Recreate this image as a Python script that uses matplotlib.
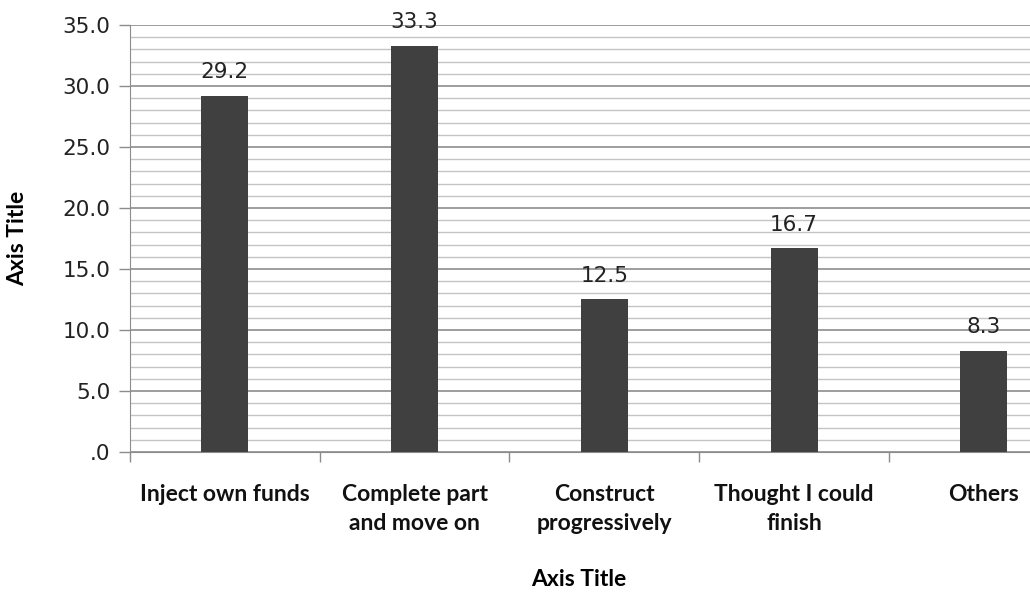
import matplotlib.pyplot as plt
from matplotlib.ticker import MultipleLocator, FuncFormatter

# Survey answers and percentage of respondents
categories = ["Inject own funds", "Complete part\nand move on", "Construct\nprogressively",
              "Thought I could\nfinish", "Others"]
values = [29.2, 33.3, 12.5, 16.7, 8.3]

fig = plt.figure(figsize=(10.3, 5.92), dpi=100)
# plot area runs past the right edge of the figure
ax = fig.add_axes([0.1262, 0.2365, 0.9211, 0.7213])

x = range(len(categories))
bars = ax.bar(x, values, width=0.248, color="#404040", zorder=3)

# Value labels above each bar
for xi, v in zip(x, values):
    ax.text(xi, v + 1.1, f"{v:.1f}", ha="center", va="bottom",
            fontsize=15.5, family="DejaVu Sans", color="#222222")

ax.set_xlim(-0.5, len(categories) - 0.5)
ax.set_ylim(0, 35)

# Major and minor horizontal gridlines
ax.yaxis.set_major_locator(MultipleLocator(5))
ax.yaxis.set_minor_locator(MultipleLocator(1))
ax.yaxis.set_major_formatter(FuncFormatter(lambda v, p: ".0" if v == 0 else f"{v:.1f}"))
ax.grid(axis="y", which="major", color="#8c8c8c", linewidth=1.2, zorder=0)
ax.grid(axis="y", which="minor", color="#c4c4c4", linewidth=1.0, zorder=0)

ax.tick_params(axis="y", which="major", length=8, width=1, color="#8c8c8c",
               labelsize=15.5, labelcolor="#222222", pad=6)
ax.tick_params(axis="y", which="minor", length=0)

# Category ticks sit on the boundaries between groups
ax.set_xticks([i - 0.5 for i in range(len(categories) + 1)], minor=False)
ax.set_xticklabels([])
ax.set_xticks(list(x), minor=True)
ax.set_xticklabels(categories, minor=True, fontsize=16.5, family="Lato",
                   fontweight="bold", color="#111111", linespacing=1.45)
ax.tick_params(axis="x", which="major", length=7, width=1, color="#8c8c8c")
ax.tick_params(axis="x", which="minor", length=0, pad=23)

for side in ["top", "right"]:
    ax.spines[side].set_visible(False)
ax.spines["left"].set_color("#8c8c8c")
ax.spines["bottom"].set_color("#8c8c8c")

ax.set_ylabel("Axis Title", fontsize=16.5, family="Lato", fontweight="bold")
ax.set_xlabel("Axis Title", fontsize=16.5, family="Lato", fontweight="bold")
ax.yaxis.set_label_coords(-0.1075, 0.5)
ax.xaxis.set_label_coords(0.473, -0.273)

fig.savefig("out.png", dpi=100)
